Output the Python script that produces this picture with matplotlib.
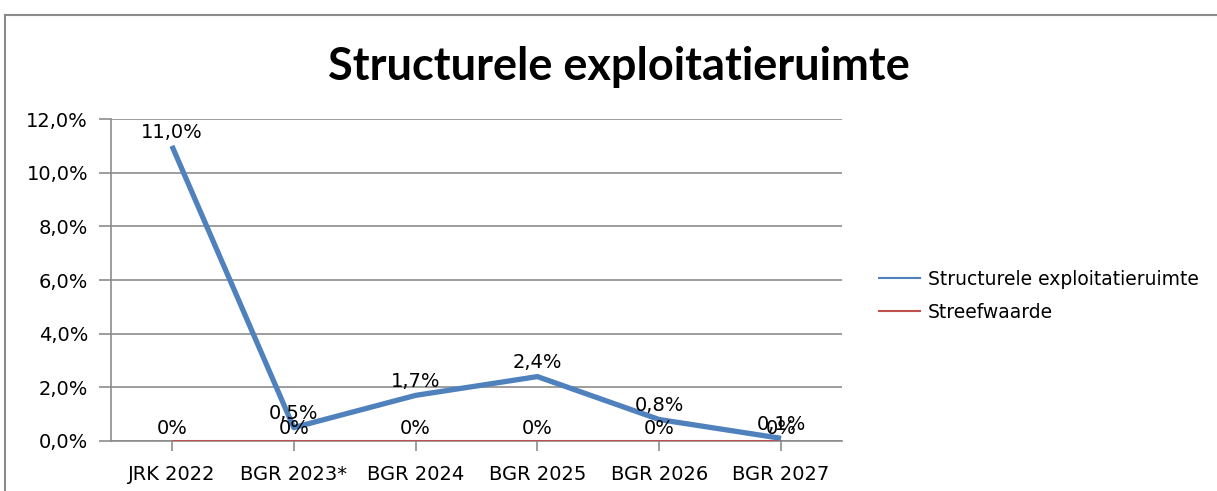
import matplotlib
matplotlib.use("Agg")
import matplotlib.pyplot as plt
from matplotlib.lines import Line2D

categories = ["JRK 2022", "BGR 2023*", "BGR 2024", "BGR 2025", "BGR 2026", "BGR 2027"]
structurele = [11.0, 0.5, 1.7, 2.4, 0.8, 0.1]
streefwaarde = [0, 0, 0, 0, 0, 0]
yticks = [0, 2, 4, 6, 8, 10, 12]

W, H = 1217, 491
fig = plt.figure(figsize=(W / 100, H / 100), dpi=100)
fig.patch.set_facecolor("white")

ax = fig.add_axes([111 / W, 1 - 441 / H, (842 - 111) / W, (441 - 119) / H])
x = [i + 0.5 for i in range(len(categories))]

grid_c = "#8c8c8c"
blue = "#4F81BD"
red = "#C0504D"

ax.plot(x, streefwaarde, color=red, lw=2.2, solid_capstyle="butt", zorder=3, label="Streefwaarde")
ax.plot(x, structurele, color=blue, lw=3.8, solid_capstyle="butt", zorder=4,
        label="Structurele exploitatieruimte")

ax.set_xlim(0, len(categories))
ax.set_ylim(0, 12)
ax.set_yticks(yticks)
ax.set_yticklabels([f"{v:.1f}%".replace(".", ",") for v in yticks])
ax.set_xticks(x)
ax.set_xticklabels(categories)

for s in ["top", "right"]:
    ax.spines[s].set_visible(False)
for s in ["left", "bottom"]:
    ax.spines[s].set_color(grid_c)
    ax.spines[s].set_linewidth(1.2)
ax.yaxis.grid(True, color=grid_c, lw=1.2)
ax.set_axisbelow(True)
ax.tick_params(axis="x", length=7, width=1.2, color=grid_c, pad=10, labelsize=14)
ax.tick_params(axis="y", length=8.5, width=1.2, color=grid_c, pad=8, labelsize=14)

for xi, v in zip(x, streefwaarde):
    ax.annotate(f"{v:.0f}%", (xi, v), xytext=(0, 2), textcoords="offset points",
                ha="center", va="bottom", fontsize=14, zorder=5)
for xi, v in zip(x, structurele):
    ax.annotate(f"{v:.1f}%".replace(".", ","), (xi, v), xytext=(0, 3), textcoords="offset points",
                ha="center", va="bottom", fontsize=14, zorder=6)

handles = [Line2D([0], [0], color=blue, lw=1.5), Line2D([0], [0], color=red, lw=1.5)]
fig.legend(handles, ["Structurele exploitatieruimte", "Streefwaarde"],
           loc="center left", bbox_to_anchor=(862 / W, 1 - 296 / H), frameon=False,
           fontsize=13.5, handlelength=2.2, handletextpad=0.4, labelspacing=0.75)

fig.text(619 / W, 1 - 80 / H, "Structurele exploitatieruimte", ha="center", va="baseline",
         fontsize=32.5, fontweight="bold", family="Lato")

fig.add_artist(Line2D([5 / W, 1], [1 - 15 / H, 1 - 15 / H], transform=fig.transFigure,
                      color="#8a8a8a", lw=1.5))
fig.add_artist(Line2D([5 / W, 5 / W], [0, 1 - 15 / H], transform=fig.transFigure,
                      color="#8a8a8a", lw=1.5))

fig.savefig("out.png", dpi=100)
